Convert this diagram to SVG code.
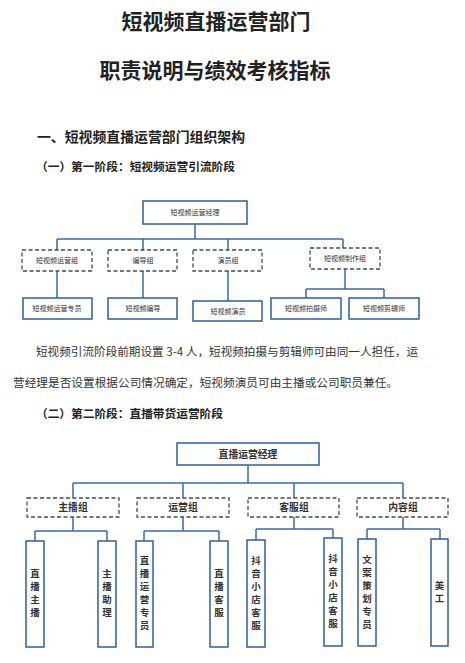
<svg xmlns="http://www.w3.org/2000/svg" width="465" height="663" viewBox="0 0 465 663">
<style>
text{font-family:"Noto Sans CJK SC","Noto Sans",sans-serif;fill:#222}
.t1{font-size:21px;font-weight:bold;text-anchor:middle}
.h1{font-size:13.5px;font-weight:bold}
.h2{font-size:11.5px;font-weight:bold}
.p{font-size:11.3px;fill:#333}
.box{fill:#fff;stroke:#2e5f9e;stroke-width:1.5}
.dash{fill:#fff;stroke:#4a4a4a;stroke-width:1.3;stroke-dasharray:4 2.5}
.con{fill:none;stroke:#3a6aa8;stroke-width:1.5}
.s{font-size:7px;text-anchor:middle;fill:#333}
.m{font-size:9.8px;text-anchor:middle;font-weight:bold;fill:#333}
.v{font-size:9.5px;text-anchor:middle;font-weight:bold;fill:#333}
</style>
<rect width="465" height="663" fill="#fff"/>
<text class="t1" x="216" y="29">短视频直播运营部门</text>
<text class="t1" x="215" y="78">职责说明与绩效考核指标</text>
<text class="h1" x="37" y="142" textLength="208" lengthAdjust="spacingAndGlyphs">一、短视频直播运营部门组织架构</text>
<text class="h2" x="36" y="171" textLength="199" lengthAdjust="spacingAndGlyphs">（一）第一阶段：短视频运营引流阶段</text>
<text class="p" x="36" y="356" textLength="382" lengthAdjust="spacingAndGlyphs">短视频引流阶段前期设置 3-4 人，短视频拍摄与剪辑师可由同一人担任，运</text>
<text class="p" x="13" y="387" textLength="385" lengthAdjust="spacingAndGlyphs">营经理是否设置根据公司情况确定，短视频演员可由主播或公司职员兼任。</text>
<text class="h2" x="36" y="418" textLength="187" lengthAdjust="spacingAndGlyphs">（二）第二阶段：直播带货运营阶段</text>
<g id="connectors">
<path class="con" d="M195 224V239M57 239H343M57 239V250M143 239V250M228 239V250M343 239V248"/>
<path class="con" d="M57 271V298M143 271V298M228 271V301M345 269V289M306 289H384M306 289V298M384 289V298"/>
<path class="con" d="M248 465V483M73 483H403M73 483V498M183 483V498M294 483V498M403 483V498"/>
<path class="con" d="M73 517V531M35 531H107M35 531V541M107 531V541"/>
<path class="con" d="M183 517V531M144 531H219M144 531V541M219 531V541"/>
<path class="con" d="M294 517V529M256 529H333M256 529V540M333 529V538"/>
<path class="con" d="M403 517V529M367 529H440M367 529V539M440 529V539"/>
</g>
<g id="n1"><rect class="box" x="143" y="201" width="104" height="23"/><text class="s" x="195" y="215">短视频运营经理</text></g>
<g id="n2"><rect class="dash" x="22" y="250" width="70" height="21"/><text class="s" x="57" y="263">短视频运营组</text></g>
<g id="n3"><rect class="dash" x="108" y="250" width="69" height="21"/><text class="s" x="143" y="263">编导组</text></g>
<g id="n4"><rect class="dash" x="193" y="250" width="69" height="21"/><text class="s" x="228" y="263">演员组</text></g>
<g id="n5"><rect class="dash" x="310" y="248" width="70" height="21"/><text class="s" x="345" y="261">短视频制作组</text></g>
<g id="n6"><rect class="box" x="23" y="298" width="69" height="21"/><text class="s" x="57" y="311">短视频运营专员</text></g>
<g id="n7"><rect class="box" x="108" y="298" width="69" height="21"/><text class="s" x="143" y="311">短视频编导</text></g>
<g id="n8"><rect class="box" x="193" y="301" width="69" height="20"/><text class="s" x="228" y="314">短视频演员</text></g>
<g id="n9"><rect class="box" x="271" y="298" width="70" height="21"/><text class="s" x="306" y="311">短视频拍摄师</text></g>
<g id="n10"><rect class="box" x="349" y="298" width="70" height="21"/><text class="s" x="384" y="311">短视频剪辑师</text></g>
<g id="m1"><rect class="box" x="177" y="443" width="142" height="22"/><text class="m" x="248" y="457.5">直播运营经理</text></g>
<g id="m2"><rect class="dash" x="27" y="498" width="92" height="19"/><text class="m" x="73" y="511">主播组</text></g>
<g id="m3"><rect class="dash" x="137" y="498" width="92" height="19"/><text class="m" x="183" y="511">运营组</text></g>
<g id="m4"><rect class="dash" x="248" y="498" width="91" height="19"/><text class="m" x="294" y="511">客服组</text></g>
<g id="m5"><rect class="dash" x="357" y="498" width="91" height="19"/><text class="m" x="403" y="511">内容组</text></g>
<g id="v1"><rect class="box" x="26" y="541" width="18" height="106"/><text class="v" x="35"><tspan x="35" y="577">直</tspan><tspan x="35" y="590">播</tspan><tspan x="35" y="603">主</tspan><tspan x="35" y="616">播</tspan></text></g>
<g id="v2"><rect class="box" x="98" y="541" width="18" height="106"/><text class="v"><tspan x="107" y="577">主</tspan><tspan x="107" y="590">播</tspan><tspan x="107" y="603">助</tspan><tspan x="107" y="616">理</tspan></text></g>
<g id="v3"><rect class="box" x="136" y="541" width="17" height="106"/><text class="v"><tspan x="144.5" y="564">直</tspan><tspan x="144.5" y="577">播</tspan><tspan x="144.5" y="590">运</tspan><tspan x="144.5" y="603">营</tspan><tspan x="144.5" y="616">专</tspan><tspan x="144.5" y="629">员</tspan></text></g>
<g id="v4"><rect class="box" x="210" y="541" width="18" height="106"/><text class="v"><tspan x="219" y="577">直</tspan><tspan x="219" y="590">播</tspan><tspan x="219" y="603">客</tspan><tspan x="219" y="616">服</tspan></text></g>
<g id="v5"><rect class="box" x="247" y="540" width="18" height="107"/><text class="v"><tspan x="256" y="564">抖</tspan><tspan x="256" y="577">音</tspan><tspan x="256" y="590">小</tspan><tspan x="256" y="603">店</tspan><tspan x="256" y="616">客</tspan><tspan x="256" y="629">服</tspan></text></g>
<g id="v6"><rect class="box" x="324" y="538" width="18" height="108"/><text class="v"><tspan x="333" y="562">抖</tspan><tspan x="333" y="575">音</tspan><tspan x="333" y="588">小</tspan><tspan x="333" y="601">店</tspan><tspan x="333" y="614">客</tspan><tspan x="333" y="627">服</tspan></text></g>
<g id="v7"><rect class="box" x="358" y="539" width="18" height="107"/><text class="v"><tspan x="367" y="563">文</tspan><tspan x="367" y="576">案</tspan><tspan x="367" y="589">策</tspan><tspan x="367" y="602">划</tspan><tspan x="367" y="615">专</tspan><tspan x="367" y="628">员</tspan></text></g>
<g id="v8"><rect class="box" x="431" y="539" width="17" height="107"/><text class="v"><tspan x="439.5" y="589">美</tspan><tspan x="439.5" y="602">工</tspan></text></g>
</svg>
